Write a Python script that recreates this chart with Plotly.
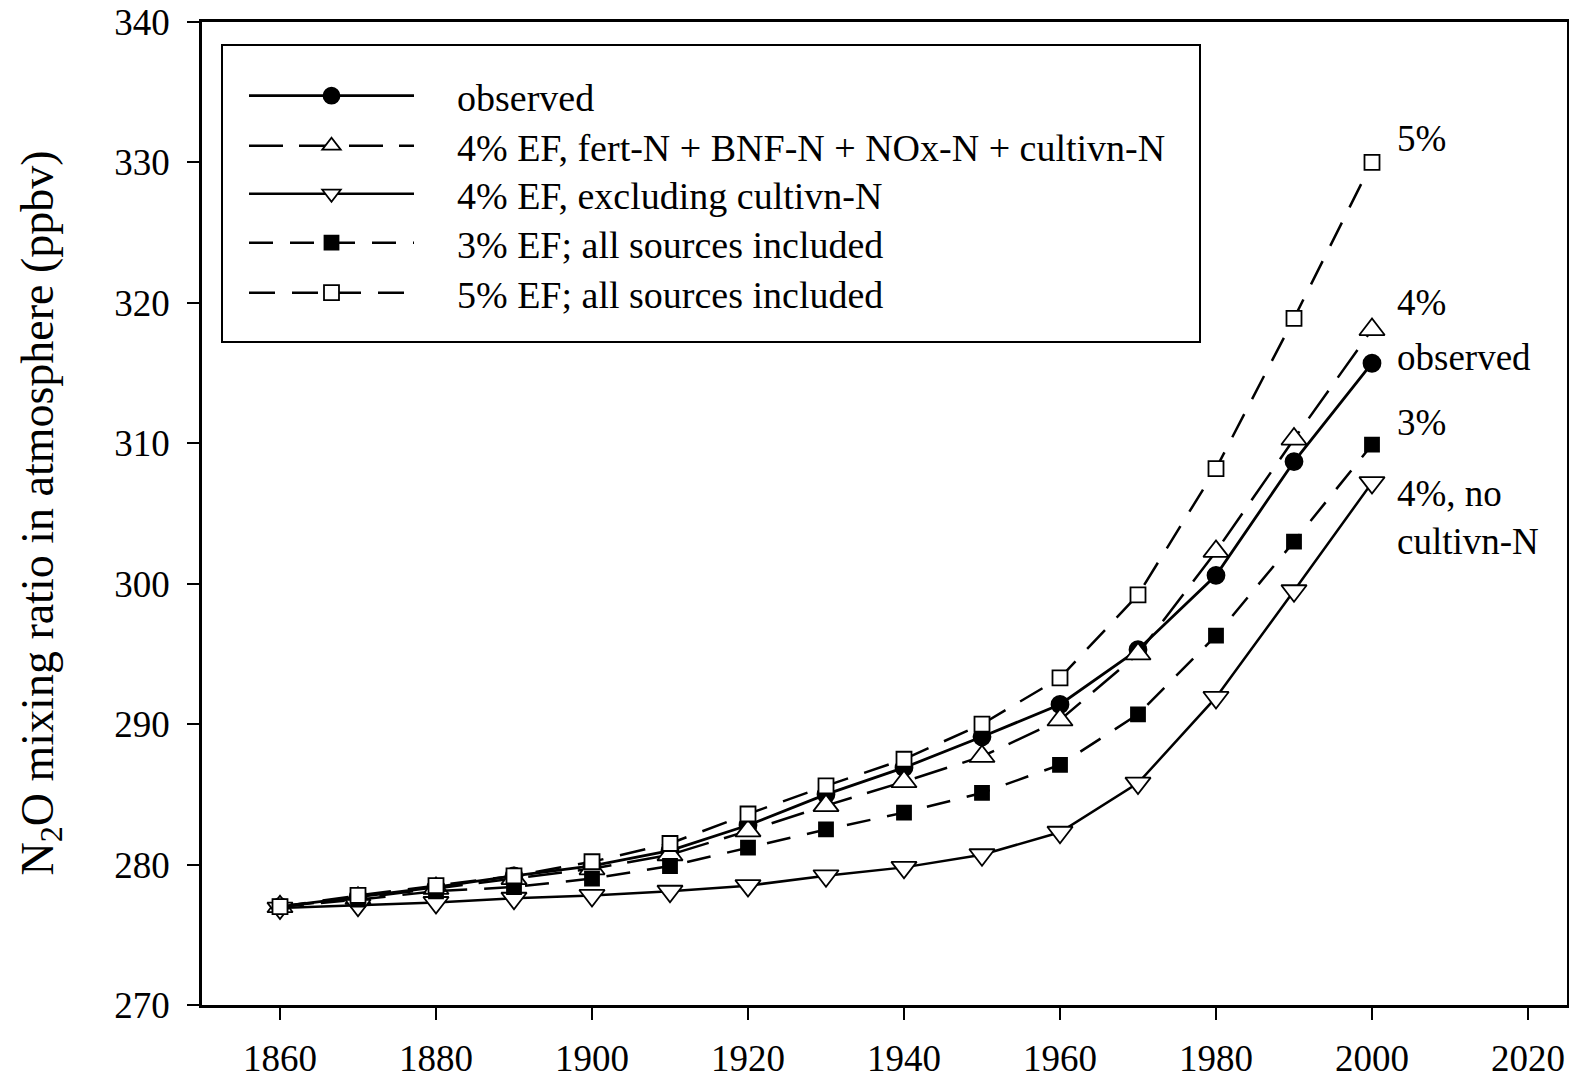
import plotly.graph_objects as go

years = [1860, 1870, 1880, 1890, 1900, 1910, 1920, 1930, 1940, 1950, 1960, 1970, 1980, 1990, 2000]
observed = [277.0, 277.7, 278.4, 279.2, 279.9, 281.0, 282.8, 285.0, 286.9, 289.1, 291.4, 295.3, 300.6, 308.7, 315.7]
ef4_all = [277.0, 277.6, 278.3, 279.0, 279.7, 280.7, 282.4, 284.2, 285.9, 287.7, 290.3, 295.0, 302.3, 310.3, 318.1]
ef4_nocult = [276.9, 277.1, 277.3, 277.6, 277.8, 278.1, 278.5, 279.2, 279.8, 280.7, 282.3, 285.8, 291.9, 299.5, 307.2]
ef3_all = [277.0, 277.5, 278.1, 278.4, 279.0, 279.9, 281.2, 282.5, 283.7, 285.1, 287.1, 290.7, 296.3, 303.0, 309.9]
ef5_all = [277.0, 277.8, 278.5, 279.2, 280.2, 281.5, 283.6, 285.6, 287.5, 290.0, 293.3, 299.2, 308.2, 318.9, 330.0]

names = [
    "observed",
    "4% EF, fert-N + BNF-N + NOx-N + cultivn-N",
    "4% EF, excluding cultivn-N",
    "3% EF; all sources included",
    "5% EF; all sources included",
]

end_labels = ["5%", "4%", "observed", "3%", "4%, no<br>cultivn-N"]
end_label_y = [331.7, 320.0, 316.1, 311.5, 304.7]

x_ticks = [1860, 1880, 1900, 1920, 1940, 1960, 1980, 2000, 2020]
y_ticks = [270, 280, 290, 300, 310, 320, 330, 340]

FONT = "Liberation Serif, Times New Roman, serif"
PAD = "\u00a0" * 4

W, H = 1569, 1082
ML, MR, MT, MB = 202, 2, 22, 77
plot_top, plot_h = MT, H - MT - MB
plot_left, plot_w = ML, W - ML - MR

fig = go.Figure()

styles = [
    (observed, "solid", "circle", "black", 17, 2.8),
    (ef4_all, "34px,16px", "triangle-up", "white", 22, 2.5),
    (ef4_nocult, "solid", "triangle-down", "white", 22, 2.5),
    (ef3_all, "24px,17px", "square", "black", 14, 2.5),
    (ef5_all, "26px,17px", "square", "white", 15, 2.5),
]

legend_rows_px = [96, 146, 194, 243, 293]
legend_ids = ["legend", "legend2", "legend3", "legend4", "legend5"]

for (vals, dash, sym, col, size, lw), name, lid in zip(styles, names, legend_ids):
    fig.add_trace(go.Scatter(
        x=years, y=vals, name=PAD + name, mode="lines+markers",
        line=dict(color="black", width=lw, dash=dash),
        marker=dict(symbol=sym, size=size, color=col,
                    line=dict(color="black", width=1.8)),
        legend=lid,
    ))

for txt, yy in zip(end_labels, end_label_y):
    fig.add_annotation(x=2003.0, y=yy, xref="x", yref="y", text=txt,
                       showarrow=False, xanchor="left", yanchor="middle",
                       align="left", font=dict(family=FONT, size=37, color="black"))

# y-axis title
fig.add_annotation(x=0, y=0.5, xref="paper", yref="paper", xshift=-162,
                   text="N<sub>2</sub>O mixing ratio in atmosphere (ppbv)",
                   textangle=-90, showarrow=False, xanchor="center", yanchor="middle",
                   font=dict(family=FONT, size=46, color="black"))

# legend frame
fig.add_shape(type="rect", xref="paper", yref="paper",
              x0=(222 - plot_left) / plot_w, x1=(1200 - plot_left) / plot_w,
              y0=1 - (342 - plot_top) / plot_h, y1=1 - (45 - plot_top) / plot_h,
              line=dict(color="black", width=2), fillcolor="rgba(0,0,0,0)")

legend_layout = {}
for lid, row in zip(legend_ids, legend_rows_px):
    legend_layout[lid] = dict(
        x=(244 - plot_left) / plot_w, y=1 - (row - plot_top) / plot_h,
        xanchor="left", yanchor="middle",
        bgcolor="rgba(0,0,0,0)", borderwidth=0,
        itemwidth=165, font=dict(family=FONT, size=38),
    )

fig.update_layout(
    width=W, height=H,
    margin=dict(l=ML, r=MR, t=MT, b=MB, autoexpand=False),
    paper_bgcolor="white", plot_bgcolor="white",
    font=dict(family=FONT, size=37, color="black"),
    showlegend=True,
    **legend_layout,
)

fig.update_xaxes(range=[1850, 2025], tickvals=x_ticks, automargin=False,
                 ticklabeloverflow="allow",
                 showgrid=False, zeroline=False, showline=True, linecolor="black", linewidth=2.5,
                 mirror=True, ticks="outside", ticklen=12, tickwidth=2, tickcolor="black",
                 ticklabelstandoff=7, tickfont=dict(family=FONT, size=37))
fig.update_yaxes(range=[270, 340], tickvals=y_ticks, automargin=False,
                 ticklabeloverflow="allow",
                 showgrid=False, zeroline=False, showline=True, linecolor="black", linewidth=2.5,
                 mirror=True, ticks="outside", ticklen=12, tickwidth=2, tickcolor="black",
                 ticklabelstandoff=10, tickfont=dict(family=FONT, size=37))

fig.write_html("out.html",
               config={"displayModeBar": False},
               post_script="document.body.style.margin='0';document.body.style.overflow='hidden';")
